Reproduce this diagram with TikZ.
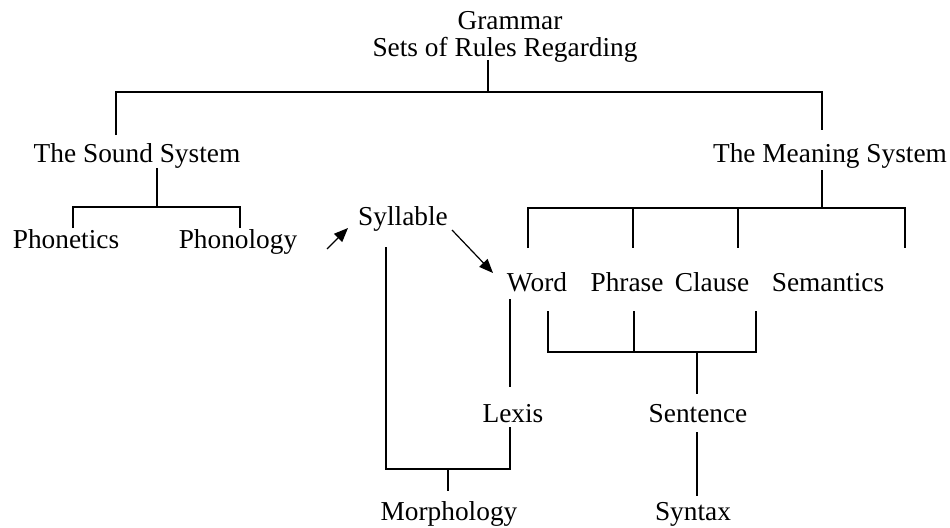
\documentclass[tikz,border=0pt]{standalone}
\usepackage{fontspec}
\setmainfont{Liberation Serif}
\usetikzlibrary{arrows.meta}
\begin{document}
\begin{tikzpicture}[x=0.75pt,y=-0.75pt,
  lbl/.style={inner sep=0pt,anchor=base,font=\fontsize{20.5}{24}\selectfont},
  conn/.style={line width=0.9pt,line join=miter},
  arr/.style={line width=0.9pt,-{Triangle[length=10.5pt,width=8.5pt]}}]
\useasboundingbox (0,0) rectangle (950,528);
% texts
\node[lbl,text depth=0pt] (grammar) at (510,30) {Grammar};
\node[lbl,text height=14pt] (sets) at (505,57) {Sets of Rules Regarding};
\node[lbl] (sound) at (137,162) {The Sound System};
\node[lbl] (meaning) at (830,162) {The Meaning System};
\node[lbl] (phonetics) at (66,248) {Phonetics};
\node[lbl] (phonology) at (238,248) {Phonology};
\node[lbl] (syllable) at (403,225) {Syllable};
\node[lbl] (word) at (537,291) {Word};
\node[lbl] (phrase) at (627,291) {Phrase};
\node[lbl] (clause) at (712,291) {Clause};
\node[lbl] (semantics) at (828,291) {Semantics};
\node[lbl] (lexis) at (513,422) {Lexis};
\node[lbl] (sentence) at (698,422) {Sentence};
\node[lbl] (morphology) at (449,520) {Morphology};
\node[lbl] (syntax) at (693,520) {Syntax};
% junction coordinates
\coordinate (g0) at (488,60);
\coordinate (g1) at (488,92);
\coordinate (sL) at (116,135);
\coordinate (mL) at (822,130);
\coordinate (s0) at (157,168);
\coordinate (s1) at (157,207);
\coordinate (phA) at (73,228);
\coordinate (phB) at (240,228);
\coordinate (m0) at (822,170);
\coordinate (m1) at (822,208);
\coordinate (wA) at (528,248);
\coordinate (pA) at (633,248);
\coordinate (cA) at (738,248);
\coordinate (seA) at (905,248);
\coordinate (a1s) at (327,249);
\coordinate (a1e) at (348,228);
\coordinate (a2s) at (452,230);
\coordinate (a2e) at (493,273);
\coordinate (syl) at (386,247);
\coordinate (mo1) at (386,469);
\coordinate (mo2) at (510,469);
\coordinate (lx0) at (510,427);
\coordinate (mo3) at (448,469);
\coordinate (mo4) at (448,491);
\coordinate (wl0) at (510,299);
\coordinate (wl1) at (510,387);
\coordinate (w1) at (548,311);
\coordinate (p1) at (634,311);
\coordinate (c1) at (756,311);
\coordinate (j1) at (548,352);
\coordinate (j2) at (756,352);
\coordinate (sn0) at (697,352);
\coordinate (sn1) at (697,394);
\coordinate (sx0) at (697,432);
\coordinate (sx1) at (697,496);
% connectors
\draw[conn] (g0) -- (g1);
\draw[conn] (sL) -- (sL |- g1) -- (mL |- g1) -- (mL);
\draw[conn] (s0) -- (s1);
\draw[conn] (phA) -- (phA |- s1) -- (phB |- s1) -- (phB);
\draw[conn] (m0) -- (m1);
\draw[conn] (wA) -- (wA |- m1) -- (seA |- m1) -- (seA);
\draw[conn] (pA |- m1) -- (pA);
\draw[conn] (cA |- m1) -- (cA);
\draw[arr] (a1s) -- (a1e);
\draw[arr] (a2s) -- (a2e);
\draw[conn] (syl) -- (mo1) -- (mo2) -- (lx0);
\draw[conn] (mo3) -- (mo4);
\draw[conn] (wl0) -- (wl1);
\draw[conn] (w1) -- (j1) -- (j2) -- (c1);
\draw[conn] (p1) -- (p1 |- j1);
\draw[conn] (sn0) -- (sn1);
\draw[conn] (sx0) -- (sx1);
\end{tikzpicture}
\end{document}
